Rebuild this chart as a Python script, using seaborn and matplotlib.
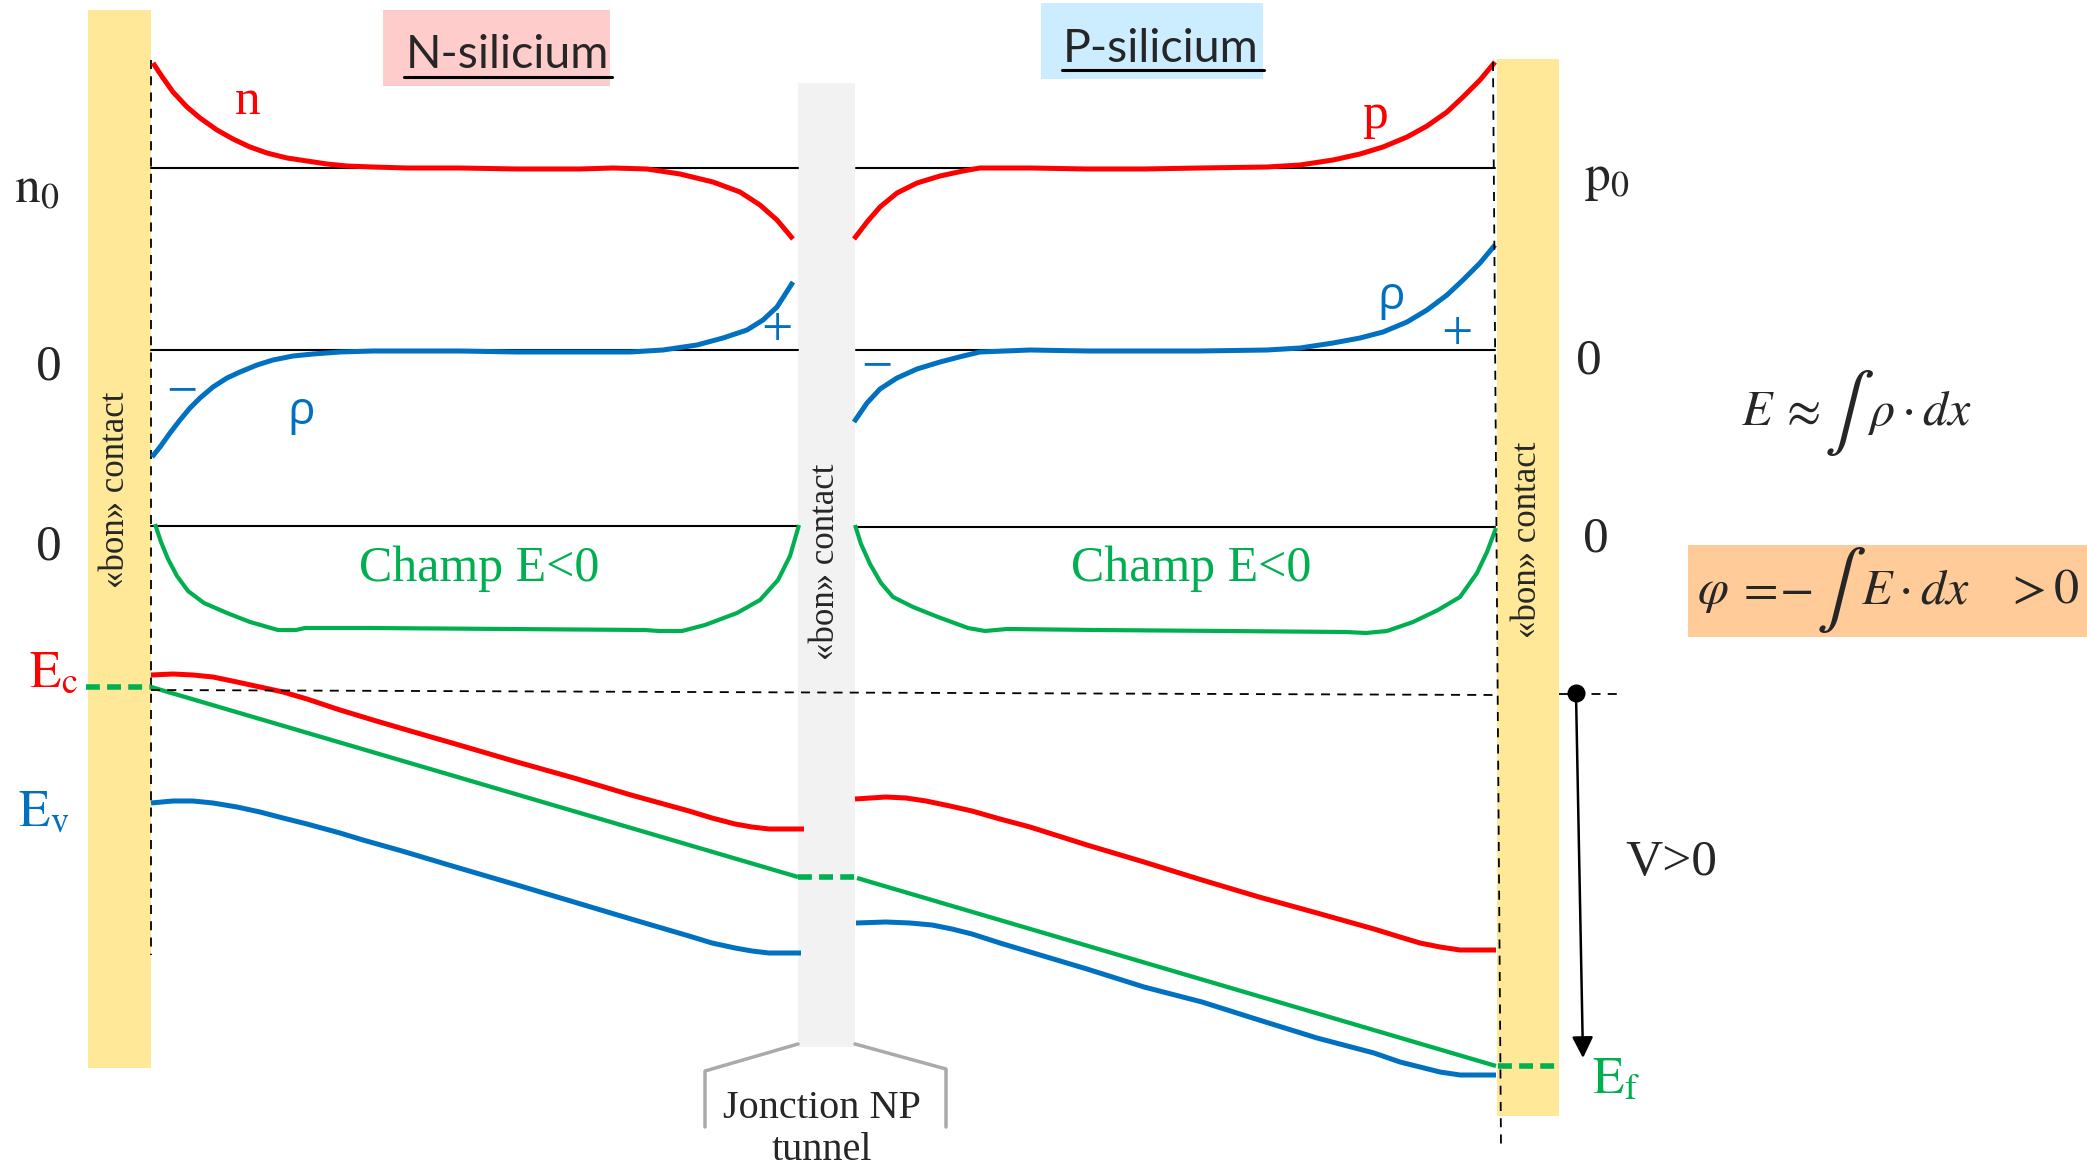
import numpy as np
import pandas as pd
import matplotlib
matplotlib.use("Agg")
import matplotlib.pyplot as plt
import seaborn as sns
from matplotlib.patches import Rectangle

sns.set_theme(style="white")
plt.rcParams['font.family'] = ['Liberation Serif', 'DejaVu Serif']
plt.rcParams['mathtext.fontset'] = 'stix'

# ---------------- data (picture coordinates: x right, y downward) ----------------
# carrier densities
n_x = [153, 163, 173, 187, 200, 217, 233, 250, 267, 287, 307, 327, 347, 373, 407, 460, 517, 580,
       613, 647, 680, 713, 740, 760, 777, 793]
n_y = [63, 78, 92, 107, 118, 130, 139, 147, 153, 158, 161, 164, 166, 167, 168, 168, 169, 169,
       168, 169, 174, 182, 192, 205, 220, 239]
p_x = [854, 867, 880, 897, 917, 940, 963, 980, 1030, 1087, 1144, 1200, 1267, 1300, 1333, 1360,
       1383, 1407, 1427, 1447, 1463, 1480, 1495]
p_y = [239, 222, 207, 193, 183, 176, 171, 168, 168, 169, 169, 168, 167, 165, 160, 154,
       147, 137, 126, 112, 97, 80, 62]
# charge density rho
rhoN_x = [152, 160, 170, 180, 190, 200, 213, 227, 240, 257, 273, 293, 313, 340, 373, 407, 460, 517,
          580, 630, 663, 697, 723, 747, 763, 777, 793]
rhoN_y = [457, 447, 433, 420, 408, 398, 387, 378, 372, 365, 360, 356, 354, 352, 351, 351, 351, 352,
          352, 352, 350, 345, 338, 330, 320, 307, 282]
rhoP_x = [854, 867, 880, 897, 917, 940, 963, 980, 1030, 1087, 1144, 1200, 1267, 1300, 1333, 1360,
          1383, 1407, 1427, 1447, 1463, 1480, 1495]
rhoP_y = [422, 403, 389, 378, 369, 362, 356, 352, 350, 351, 351, 351, 350, 348, 343, 338,
          332, 322, 310, 295, 280, 263, 245]
# electric field
EN_x = [155, 161, 168, 177, 188, 204, 227, 250, 278, 296, 305, 370, 507, 645, 659, 682, 705, 737,
        760, 778, 790, 799]
EN_y = [524, 542, 559, 576, 591, 603, 613, 622, 630, 630, 628, 628, 629, 630, 631, 631, 625, 613,
        600, 580, 556, 525]
EP_x = [855, 861, 870, 881, 893, 913, 938, 968, 985, 1007, 1096, 1225, 1346, 1366, 1387, 1413,
        1438, 1460, 1477, 1487, 1496]
EP_y = [525, 544, 564, 583, 597, 607, 617, 628, 631, 629, 630, 631, 632, 633, 631, 622,
        610, 597, 573, 552, 528]
# band edges
EcN_x = [151, 173, 193, 213, 237, 260, 283, 307, 340, 373, 407, 459, 517, 574, 631, 689, 712, 735,
         752, 769, 785, 804]
EcN_y = [675, 674, 675, 677, 682, 687, 692, 699, 710, 720, 730, 745, 762, 778, 795, 811, 818, 824,
         827, 829, 829, 829]
EcP_x = [855, 886, 906, 926, 950, 972, 1000, 1030, 1087, 1144, 1202, 1259, 1317, 1374, 1400, 1420,
         1440, 1460, 1480, 1496]
EcP_y = [799, 797, 798, 801, 806, 811, 819, 827, 845, 862, 880, 897, 913, 929, 937, 943,
         947, 950, 950, 950]
EvN_x = [151, 173, 193, 213, 237, 260, 283, 307, 340, 363, 402, 459, 517, 574, 631, 689, 712, 735,
         752, 769, 801]
EvN_y = [803, 801, 801, 803, 807, 812, 818, 824, 833, 840, 851, 868, 885, 902, 919, 936, 943, 948,
         951, 953, 953]
EvP_x = [856, 886, 910, 932, 952, 972, 1000, 1030, 1087, 1144, 1202, 1259, 1317, 1374, 1400, 1420,
         1440, 1460, 1496]
EvP_y = [923, 922, 923, 925, 929, 934, 943, 952, 969, 987, 1002, 1020, 1038, 1053, 1062, 1067,
         1072, 1075, 1075]
# Fermi level
EfN_x = [151, 798]
EfN_y = [687, 877]
EfP_x = [857, 1496]
EfP_y = [878, 1066]
# reference levels (n0/p0, rho=0, E=0)
ref_levels_left = [168, 350, 526]
ref_levels_right = [168, 350, 527]

RED = '#FF0000'
BLUE = '#0070C0'
GREEN = '#00B050'

fig = plt.figure(figsize=(20.87, 11.70), dpi=100)
ax = fig.add_axes([0, 0, 1, 1])
ax.set_xlim(0, 2087)
ax.set_ylim(1170, 0)
ax.axis('off')

# background boxes
ax.add_patch(Rectangle((88, 10), 63, 1058, color='#FFE999', zorder=1, lw=0))
ax.add_patch(Rectangle((1497, 59), 62, 1057, color='#FFE999', zorder=1, lw=0))
ax.add_patch(Rectangle((798, 83), 57, 964, color='#F2F2F2', zorder=1, lw=0))
ax.add_patch(Rectangle((383, 10), 227, 76, color='#FFCCCC', zorder=1, lw=0))
ax.add_patch(Rectangle((1041, 3), 222, 76, color='#CCECFF', zorder=1, lw=0))
ax.add_patch(Rectangle((1688, 545), 399, 92, color='#FFCC99', zorder=1, lw=0))

# reference horizontal lines
for yl, yr in zip(ref_levels_left, ref_levels_right):
    ax.plot([151, 798], [yl, yl], color='black', lw=1.5, zorder=2)
    ax.plot([856, 1495], [yr, yr], color='black', lw=1.5, zorder=2)

# dashed verticals and horizontal reference
ax.plot([151, 151], [60, 955], color='black', lw=1.3, ls=(0, (5, 4)), zorder=2)
ax.plot([1493, 1501], [62, 1147], color='black', lw=1.3, ls=(0, (5, 4)), zorder=4)
ax.plot([151, 1497], [690, 695], color='black', lw=1.3, ls=(0, (5, 4)), zorder=4)
ax.plot([1559, 1619], [694, 694], color='black', lw=1.3, ls=(0, (5, 4)), zorder=4)

# curves
curves = [
    (n_x, n_y, RED, 3.6), (p_x, p_y, RED, 3.6),
    (rhoN_x, rhoN_y, BLUE, 3.6), (rhoP_x, rhoP_y, BLUE, 3.6),
    (EN_x, EN_y, GREEN, 3.0), (EP_x, EP_y, GREEN, 3.0),
    (EcN_x, EcN_y, RED, 3.6), (EcP_x, EcP_y, RED, 3.6),
    (EvN_x, EvN_y, BLUE, 3.6), (EvP_x, EvP_y, BLUE, 3.6),
    (EfN_x, EfN_y, GREEN, 3.1), (EfP_x, EfP_y, GREEN, 3.1),
]
for cx, cy, col, lw in curves:
    sns.lineplot(x=cx, y=cy, sort=False, estimator=None, color=col, lw=lw, ax=ax, zorder=3,
                 solid_joinstyle='round', solid_capstyle='butt')

# green dashed Fermi-level continuations
for x0, x1, yy in [(86, 151, 687), (798, 857, 877), (1498, 1559, 1066)]:
    ax.plot([x0, x1], [yy, yy], color=GREEN, lw=4, ls=(0, (2.5, 1.3)), zorder=4)

# voltage arrow
ax.plot([1576], [693], marker='o', ms=12, color='black', zorder=5)
ax.annotate('', xy=(1583, 1058), xytext=(1576, 693),
            arrowprops=dict(arrowstyle='-|>', lw=1.8, color='black',
                            mutation_scale=32, shrinkA=0, shrinkB=0), zorder=5)

# junction callout bracket
ax.plot([798, 705, 705], [1044, 1071, 1127], color='#AAAAAA', lw=2.5, zorder=2)
ax.plot([855, 946, 946], [1044, 1069, 1127], color='#AAAAAA', lw=2.5, zorder=2)

# ---------------- texts ----------------
FS = 37
ax.text(14, 203, r'$\mathrm{n_0}$', fontsize=FS, ha='left', va='baseline')
ax.text(36, 380, '0', fontsize=FS, ha='left', va='baseline')
ax.text(36, 560, '0', fontsize=FS, ha='left', va='baseline')
ax.text(29, 687, r'$\mathrm{E_c}$', fontsize=FS, ha='left', va='baseline', color=RED)
ax.text(18, 827, r'$\mathrm{E_v}$', fontsize=FS, ha='left', va='baseline', color=BLUE)
ax.text(1584, 190, r'$\mathrm{p_0}$', fontsize=FS, ha='left', va='baseline')
ax.text(1576, 373, '0', fontsize=FS, ha='left', va='baseline')
ax.text(1583, 552, '0', fontsize=FS, ha='left', va='baseline')
ax.text(1625, 875, 'V>0', fontsize=FS, ha='left', va='baseline')
ax.text(1592, 1093, r'$\mathrm{E_f}$', fontsize=FS, ha='left', va='baseline', color=GREEN)

ax.text(235, 114, 'n', fontsize=FS, ha='left', va='baseline', color=RED)
ax.text(1362, 128, 'p', fontsize=FS, ha='left', va='baseline', color=RED)
ax.text(287, 424, 'ρ', fontsize=33, family='Open Sans', ha='left', va='baseline', color=BLUE)
ax.text(1377, 309, 'ρ', fontsize=33, family='Open Sans', ha='left', va='baseline', color=BLUE)
ax.text(182, 407, '\u2212', fontsize=40, ha='center', va='baseline', color=BLUE)
ax.text(877, 382, '\u2212', fontsize=40, ha='center', va='baseline', color=BLUE)
ax.text(777, 346, '+', fontsize=40, ha='center', va='baseline', color=BLUE)
ax.text(1457, 350, '+', fontsize=40, ha='center', va='baseline', color=BLUE)

ax.text(359, 581, 'Champ E<0', fontsize=36, ha='left', va='baseline', color=GREEN)
ax.text(1071, 581, 'Champ E<0', fontsize=36, ha='left', va='baseline', color=GREEN)

ax.text(406, 68, 'N-silicium', fontsize=33.5, family='Lato', ha='left', va='baseline')
ax.plot([404, 612], [77, 77], color='black', lw=2.2, zorder=3)
ax.text(1063, 62, 'P-silicium', fontsize=33.5, family='Lato', ha='left', va='baseline')
ax.plot([1062, 1264], [70, 70], color='black', lw=2.2, zorder=3)

for xc, yc in [(115, 490), (825, 562), (1527, 540)]:
    ax.text(xc, yc, '«bon» contact', fontsize=25, rotation=90, ha='center', va='center', zorder=5)

ax.text(822, 1118, 'Jonction NP', fontsize=29, ha='center', va='baseline')
ax.text(822, 1160, 'tunnel', fontsize=29, ha='center', va='baseline')

# formulas (pieces so that the integral sign is large as in the original)
MF = 36
ax.text(1741, 425, r'$E$', fontsize=MF, ha='left', va='baseline')
ax.text(1779, 425, r'$\approx$', fontsize=MF, ha='left', va='baseline')
ax.text(1824, 413, r'$\int$', fontsize=54, ha='left', va='center')
ax.text(1867, 425, r'$\rho \cdot dx$', fontsize=MF, ha='left', va='baseline')

ax.text(1697, 603, r'$\varphi$', fontsize=MF, ha='left', va='baseline')
ax.text(1736, 603, r'$=$', fontsize=MF, ha='left', va='baseline')
ax.text(1779, 603, r'$-$', fontsize=MF, ha='left', va='baseline')
ax.text(1816, 590, r'$\int$', fontsize=54, ha='left', va='center')
ax.text(1861, 603, r'$E \cdot dx$', fontsize=MF, ha='left', va='baseline')
ax.text(2005, 603, r'$>0$', fontsize=MF, ha='left', va='baseline')

fig.savefig('out.png', dpi=100)
